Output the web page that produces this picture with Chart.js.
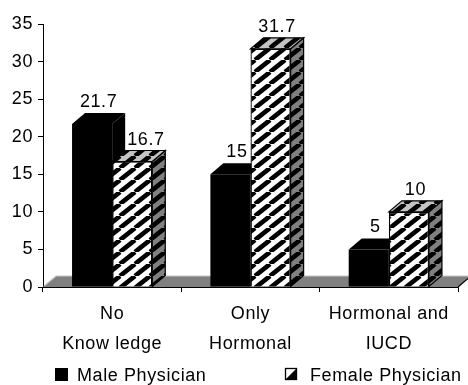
<!DOCTYPE html>
<html>
<head>
<meta charset="utf-8">
<script src="https://cdn.jsdelivr.net/npm/chart.js@4.4.1/dist/chart.umd.min.js"></script>
<style>
  html, body { margin: 0; padding: 0; background: #ffffff; }
  canvas { display: block; }
</style>
</head>
<body>
<canvas id="chart" width="468" height="385"></canvas>
<script>
// Contraception knowledge by physician gender (%)
const categories = [['No', 'Know ledge'], ['Only', 'Hormonal'], ['Hormonal and', 'IUCD']];
const malePhysician = [21.7, 15, 5];
const femalePhysician = [16.7, 31.7, 10];
const seriesNames = ['Male Physician', 'Female Physician'];
const yMin = 0;
const yMax = 35;
const yStep = 5;

const FONT = "'Liberation Sans', Arial, sans-serif";
const DEPTH_X = 13;   // 3D depth offset of bars and floor
const DEPTH_Y = -11;

// Diagonal hatch tile
function hatch(bg) {
  const w = 15, h = 12;
  const c = document.createElement('canvas');
  c.width = w; c.height = h;
  const g = c.getContext('2d');
  g.fillStyle = bg;
  g.fillRect(0, 0, w, h);
  g.strokeStyle = '#000';
  g.lineWidth = 4.6;
  for (const off of [-w, 0, w]) {
    g.beginPath();
    g.moveTo(off, h);
    g.lineTo(off + w, 0);
    g.stroke();
  }
  return g.createPattern(c, 'repeat');
}
const hatchFront = hatch('#ffffff');
const hatchTop = hatch('#c4c4c4');
const hatchSide = hatch('#808080');

function poly(ctx, pts, fill, stroke) {
  ctx.beginPath();
  ctx.moveTo(pts[0][0], pts[0][1]);
  for (let i = 1; i < pts.length; i++) ctx.lineTo(pts[i][0], pts[i][1]);
  ctx.closePath();
  ctx.fillStyle = fill;
  ctx.fill();
  if (stroke) {
    ctx.strokeStyle = stroke;
    ctx.lineWidth = 1.2;
    ctx.stroke();
  }
}

// top and side faces of a bar element
function drawBarDepth(ctx, el, topFill, sideFill, stroke) {
  const x0 = el.x - el.width / 2, x1 = el.x + el.width / 2;
  const top = el.y, base = el.base;
  poly(ctx, [[x1, top], [x1 + DEPTH_X, top + DEPTH_Y], [x1 + DEPTH_X, base + DEPTH_Y], [x1, base]], sideFill, stroke);
  poly(ctx, [[x0, top], [x1, top], [x1 + DEPTH_X, top + DEPTH_Y], [x0 + DEPTH_X, top + DEPTH_Y]], topFill, stroke);
}

const depthPlugin = {
  id: 'depth3d',
  beforeInit(chart) { chart.ctx.letterSpacing = '0.6px'; },
  beforeDraw(chart) {
    const ctx = chart.ctx;
    ctx.letterSpacing = '0.6px';
    ctx.save();
    ctx.fillStyle = '#ffffff';
    ctx.fillRect(0, 0, chart.width, chart.height);
    ctx.restore();
  },
  beforeDatasetsDraw(chart) {
    // floor plane
    const ctx = chart.ctx;
    const a = chart.chartArea;
    const y0 = chart.scales.y.getPixelForValue(yMin);
    ctx.save();
    poly(ctx, [[a.left, y0], [a.right, y0], [a.right + DEPTH_X, y0 + DEPTH_Y], [a.left + DEPTH_X, y0 + DEPTH_Y]], '#808080', null);
    ctx.strokeStyle = '#c8c8c8';
    ctx.lineWidth = 1.2;
    ctx.beginPath();
    ctx.moveTo(a.left + 1, y0 - 1);
    ctx.lineTo(a.left + DEPTH_X, y0 + DEPTH_Y);
    ctx.lineTo(a.right + DEPTH_X, y0 + DEPTH_Y);
    ctx.stroke();
    ctx.strokeStyle = '#000';
    ctx.beginPath();
    ctx.moveTo(a.right + DEPTH_X, y0 + DEPTH_Y);
    ctx.lineTo(a.right, y0);
    ctx.stroke();
    ctx.restore();
  },
  beforeDatasetDraw(chart, args) {
    // female series is drawn first; male depth faces sit behind its fronts
    if (args.index !== 1) return;
    const ctx = chart.ctx;
    ctx.save();
    chart.getDatasetMeta(0).data.forEach(el => drawBarDepth(ctx, el, '#000', '#000', null));
    ctx.restore();
  },
  afterDatasetDraw(chart, args) {
    if (args.index !== 1) return;
    const ctx = chart.ctx;
    ctx.save();
    args.meta.data.forEach(el => drawBarDepth(ctx, el, hatchTop, hatchSide, '#000'));
    ctx.restore();
  },
  afterDatasetsDraw(chart) {
    // value labels above each box; a label that would run into the taller
    // neighbouring box on its left is pushed clear of it
    const ctx = chart.ctx;
    ctx.save();
    ctx.font = '18px ' + FONT;
    ctx.fillStyle = '#000';
    ctx.textAlign = 'left';
    ctx.textBaseline = 'alphabetic';
    chart.data.datasets.forEach((ds, i) => {
      chart.getDatasetMeta(i).data.forEach((el, j) => {
        const text = String(ds.data[j]);
        const w = ctx.measureText(text).width;
        let left = el.x + DEPTH_X / 2 - w / 2;
        const baseline = el.y + DEPTH_Y - 6;
        if (i > 0) {
          const prev = chart.getDatasetMeta(i - 1).data[j];
          const prevRight = prev.x + prev.width / 2 + DEPTH_X;
          if (prev.y + DEPTH_Y < baseline && left < prevRight + 2) left = prevRight + 2;
        }
        ctx.fillText(text, left, baseline);
      });
    });
    ctx.restore();
  },
  afterDraw(chart) {
    // legend
    const ctx = chart.ctx;
    ctx.save();
    ctx.font = '18px ' + FONT;
    ctx.fillStyle = '#000';
    ctx.textBaseline = 'alphabetic';
    ctx.textAlign = 'left';
    ctx.fillRect(55, 368, 13, 13);
    ctx.fillText(chart.data.datasets[0].label, 77, 381);
    ctx.fillStyle = '#fff';
    ctx.fillRect(285.5, 368.5, 11, 11);
    ctx.fillStyle = '#000';
    ctx.beginPath();
    ctx.moveTo(296.5, 368.5);
    ctx.lineTo(296.5, 379.5);
    ctx.lineTo(285.5, 379.5);
    ctx.closePath();
    ctx.fill();
    ctx.strokeStyle = '#000';
    ctx.lineWidth = 1.3;
    ctx.strokeRect(285.5, 368.5, 11, 11);
    ctx.fillText(chart.data.datasets[1].label, 310, 381);
    ctx.restore();
  }
};

new Chart(document.getElementById('chart'), {
  type: 'bar',
  data: {
    labels: categories,
    datasets: [
      {
        label: seriesNames[0],
        data: malePhysician,
        backgroundColor: '#000000',
        borderWidth: 0
      },
      {
        label: seriesNames[1],
        data: femalePhysician,
        backgroundColor: hatchFront,
        borderColor: '#000000',
        borderWidth: 1.3
      }
    ]
  },
  options: {
    responsive: false,
    animation: false,
    devicePixelRatio: 1,
    layout: { padding: { top: 24, right: 10, left: 0, bottom: 0 } },
    datasets: { bar: { categoryPercentage: 0.58, barPercentage: 1.0 } },
    plugins: {
      legend: { display: false },
      tooltip: { enabled: false }
    },
    scales: {
      x: {
        afterFit(scale) { scale.height = 98; },
        grid: { display: true, drawOnChartArea: false, tickLength: 5, color: '#000', offset: true },
        border: { display: true, color: '#000', width: 1 },
        ticks: {
          color: '#000',
          padding: 7,
          maxRotation: 0,
          autoSkip: false,
          font: { family: FONT, size: 18, lineHeight: 1.67 }
        }
      },
      y: {
        min: yMin,
        max: yMax,
        afterFit(scale) { scale.width = 43; },
        grid: { display: true, drawOnChartArea: false, tickLength: 5, color: '#000' },
        border: { display: true, color: '#000', width: 1 },
        ticks: {
          stepSize: yStep,
          color: '#000',
          padding: 5,
          font: { family: FONT, size: 18 }
        }
      }
    }
  },
  plugins: [depthPlugin]
});
</script>
</body>
</html>
